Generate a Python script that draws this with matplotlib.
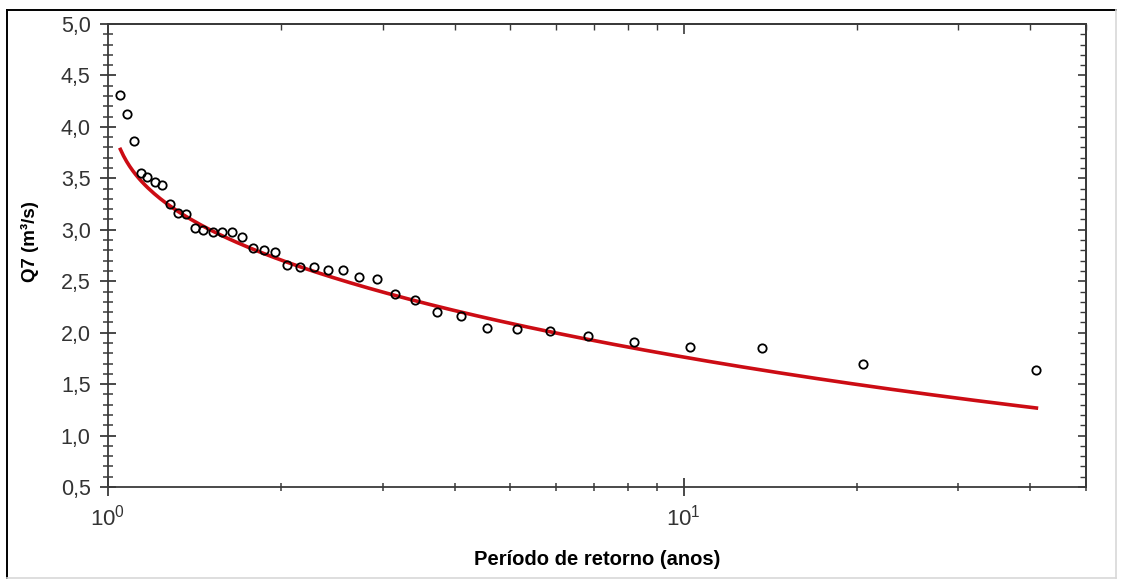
import numpy as np
import matplotlib
matplotlib.use('Agg')
import matplotlib.pyplot as plt
from matplotlib.ticker import MultipleLocator, LogLocator, NullFormatter, FuncFormatter
from matplotlib.lines import Line2D

plt.rcParams['font.family'] = ['Liberation Sans', 'DejaVu Sans']
plt.rcParams['mathtext.default'] = 'regular'

# periodo de retorno (plotting position) e vazao minima de 7 dias observada
periodo = [41.0, 20.5, 13.67, 10.25, 8.2, 6.83, 5.86, 5.125, 4.556, 4.1,
           3.727, 3.417, 3.154, 2.929, 2.733, 2.563, 2.412, 2.278, 2.158, 2.05,
           1.952, 1.864, 1.783, 1.708, 1.64, 1.577, 1.519, 1.464, 1.414, 1.367,
           1.323, 1.281, 1.242, 1.206, 1.171, 1.139, 1.108, 1.079, 1.051]
q7 = [1.64, 1.70, 1.85, 1.86, 1.91, 1.97, 2.02, 2.04, 2.05, 2.16,
      2.20, 2.32, 2.38, 2.52, 2.54, 2.61, 2.61, 2.64, 2.64, 2.66,
      2.78, 2.80, 2.82, 2.93, 2.98, 2.98, 2.98, 3.00, 3.02, 3.15,
      3.16, 3.25, 3.44, 3.46, 3.51, 3.55, 3.86, 4.13, 4.31]

# Weibull ajustada (minimos): Q = beta * (-ln(1 - 1/T)) ** (1/alpha)
alpha = 4.40
beta = 2.94
t_min, t_max = 1.051, 41.0

T = np.logspace(np.log10(t_min), np.log10(t_max), 300)
Q = beta * (-np.log(1 - 1 / T)) ** (1 / alpha)

W, H = 1121, 580
fig = plt.figure(figsize=(W / 100, H / 100), dpi=100)
ax = fig.add_axes([108 / W, 1 - 487 / H, 978 / W, 463 / H])

ax.plot(T, Q, color='#cc0c14', lw=2.6, zorder=2)
ax.plot(periodo, q7, 'o', ms=6, mfc='none', mec='black', mew=1.3, zorder=3)

ax.set_xscale('log')
ax.set_xlim(1, 50)
ax.set_ylim(0.5, 5.0)

ax.yaxis.set_major_locator(MultipleLocator(0.5))
ax.yaxis.set_minor_locator(MultipleLocator(0.1))
ax.yaxis.set_major_formatter(FuncFormatter(lambda v, p: f'{v:.1f}'.replace('.', ',')))
ax.xaxis.set_minor_locator(LogLocator(base=10, subs=np.arange(2, 10)))
ax.xaxis.set_minor_formatter(NullFormatter())

spine_c = '#3a3a3a'
for s in ax.spines.values():
    s.set_color(spine_c)
    s.set_linewidth(1.3)

ax.tick_params(axis='y', which='major', direction='inout', length=11, width=1.3,
               color=spine_c, labelsize=15.5, labelcolor='#333333', pad=7)
ax.tick_params(axis='y', which='minor', direction='inout', length=6.5, width=1.1,
               color=spine_c)
ax.tick_params(axis='x', which='major', direction='inout', length=13, width=1.3,
               color=spine_c, labelsize=16, labelcolor='#333333', pad=6)
ax.tick_params(axis='x', which='minor', direction='inout', length=6, width=1.1,
               color=spine_c)

# ticks internos no topo e na direita
top = ax.secondary_xaxis('top')
top.xaxis.set_minor_locator(LogLocator(base=10, subs=np.arange(2, 10)))
top.xaxis.set_major_formatter(NullFormatter())
top.xaxis.set_minor_formatter(NullFormatter())
top.tick_params(which='major', direction='in', length=7, width=1.2, color=spine_c)
top.tick_params(which='minor', direction='in', length=4, width=1.0, color=spine_c)
top.spines['top'].set_color(spine_c)
top.spines['top'].set_linewidth(1.3)

right = ax.secondary_yaxis('right')
right.yaxis.set_major_locator(MultipleLocator(0.5))
right.yaxis.set_minor_locator(MultipleLocator(0.1))
right.yaxis.set_major_formatter(NullFormatter())
right.tick_params(which='major', direction='in', length=6, width=1.2, color=spine_c)
right.tick_params(which='minor', direction='in', length=4, width=1.0, color=spine_c)
right.spines['right'].set_color(spine_c)
right.spines['right'].set_linewidth(1.3)

ax.set_xlabel('Período de retorno (anos)', fontsize=14.5, fontweight='bold', labelpad=14)
ax.set_ylabel('Q7 (m³/s)', fontsize=13.5, fontweight='bold')
ax.yaxis.set_label_coords(-0.071, 0.53)

# moldura da janela
x0, x1 = 7 / W, 1116 / W
y0, y1 = 1 - 578 / H, 1 - 10 / H
fig.add_artist(Line2D([x0, x0], [y0, y1], transform=fig.transFigure, color='black', lw=1.4))
fig.add_artist(Line2D([x0, x1], [y1, y1], transform=fig.transFigure, color='black', lw=1.4))
fig.add_artist(Line2D([x1, x1], [y0, y1], transform=fig.transFigure, color='#d8d8d8', lw=1.2))
fig.add_artist(Line2D([x0, x1], [y0, y0], transform=fig.transFigure, color='#d8d8d8', lw=1.2))

fig.savefig('out.png', dpi=100)
